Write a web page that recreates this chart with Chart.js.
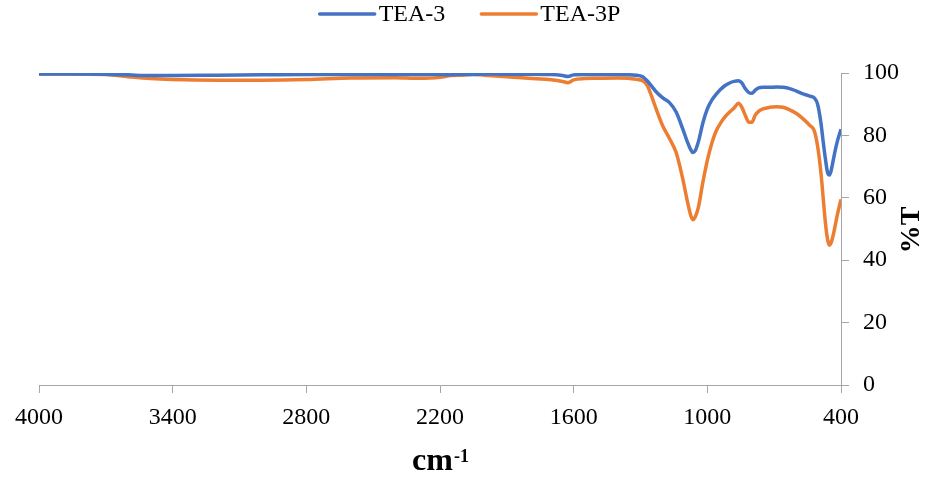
<!DOCTYPE html>
<html>
<head>
<meta charset="utf-8">
<script src="https://cdn.jsdelivr.net/npm/chart.js@4.4.1/dist/chart.umd.min.js"></script>
<style>
  html, body { margin: 0; padding: 0; background: #ffffff; }
  #wrap { width: 933px; height: 479px; position: relative; }
</style>
</head>
<body>
<div id="wrap"><canvas id="c" width="933" height="479"></canvas></div>
<script>
// ---- data ----
const seriesNames = ["TEA-3", "TEA-3P"];
const waveNumbers = [4000, 3850, 3700, 3600, 3500, 3400, 3200, 3000, 2800, 2600, 2400, 2300, 2200, 2150, 2100, 2050, 2000, 1900, 1800, 1700, 1650, 1625, 1600, 1550, 1500, 1400, 1320, 1290, 1270, 1250, 1230, 1200, 1170, 1140, 1110, 1090, 1075, 1065, 1055, 1040, 1020, 1000, 980, 960, 940, 920, 900, 880, 860, 845, 830, 815, 800, 785, 770, 750, 720, 690, 660, 630, 600, 570, 540, 520, 505, 490, 480, 470, 460, 452, 445, 435, 425, 415, 400];
const tea3 = [99.7, 99.7, 99.6, 99.4, 99.2, 99.2, 99.3, 99.4, 99.5, 99.5, 99.5, 99.5, 99.5, 99.4, 99.6, 99.5, 99.7, 99.6, 99.6, 99.5, 99.2, 98.9, 99.4, 99.5, 99.5, 99.5, 99.3, 98.8, 97.5, 95.8, 94.0, 92.0, 90.5, 87.5, 82.0, 78.0, 75.5, 74.5, 75.0, 78.0, 84.0, 88.5, 91.3, 93.2, 94.8, 96.0, 96.8, 97.3, 97.5, 96.8, 95.0, 93.8, 93.5, 94.5, 95.2, 95.4, 95.4, 95.5, 95.4, 95.0, 94.2, 93.3, 92.6, 92.0, 90.0, 84.0, 78.0, 72.5, 68.0, 67.3, 68.5, 72.0, 75.5, 78.5, 82.0];
const tea3p = [99.7, 99.7, 99.5, 98.8, 98.2, 97.9, 97.7, 97.7, 97.9, 98.4, 98.5, 98.3, 98.6, 99.2, 99.3, 99.6, 99.3, 98.8, 98.3, 97.8, 97.3, 96.9, 97.8, 98.2, 98.3, 98.4, 98.0, 97.5, 96.0, 92.5, 88.5, 83.0, 79.0, 74.5, 66.0, 59.0, 54.5, 53.0, 53.8, 57.0, 65.0, 72.0, 77.5, 81.5, 84.0, 86.0, 87.5, 88.8, 90.3, 89.0, 86.5, 84.3, 84.2, 86.5, 87.7, 88.5, 89.0, 89.2, 89.0, 88.2, 87.0, 85.3, 83.2, 81.5, 76.5, 68.0, 60.0, 52.0, 46.5, 44.8, 45.5, 48.0, 51.5, 55.0, 59.5];
const xTickStep = 600;
const yTickValues = [0, 20, 40, 60, 80, 100];
const xTitleMain = "cm";
const xTitleSup = "-1";
const yTitle = "%T";

const colors = ["#4472C4", "#ED7D31"];
const serif = '"Liberation Serif", "Times New Roman", serif';

const toPts = arr => waveNumbers.map((w, i) => ({ x: w, y: arr[i] }));

const decorPlugin = {
  id: 'decor',
  afterDraw(chart) {
    const ctx = chart.ctx;
    const area = chart.chartArea;
    ctx.save();
    // legend
    ctx.font = '24px ' + serif;
    ctx.textBaseline = 'middle';
    ctx.textAlign = 'left';
    const lineLen = 55, gapText = 4, gapItem = 36;
    const ds = chart.data.datasets;
    const widths = ds.map(d => ctx.measureText(d.label).width);
    let total = 0;
    ds.forEach((d, i) => { total += lineLen + gapText + widths[i]; if (i) total += gapItem; });
    let x = 470 - total / 2;
    const ly = 14;
    ds.forEach((d, i) => {
      ctx.strokeStyle = d.borderColor;
      ctx.lineWidth = 3.5;
      ctx.lineCap = 'round';
      ctx.beginPath();
      ctx.moveTo(x, ly);
      ctx.lineTo(x + lineLen, ly);
      ctx.stroke();
      ctx.fillStyle = '#000';
      ctx.fillText(d.label, x + lineLen + gapText, ly + 1);
      x += lineLen + gapText + widths[i] + gapItem;
    });
    // x title with superscript
    const cx = (area.left + area.right) / 2;
    ctx.textBaseline = 'alphabetic';
    ctx.font = 'bold 32px ' + serif;
    const wMain = ctx.measureText(xTitleMain).width;
    ctx.font = 'bold 18px ' + serif;
    const wSup = ctx.measureText(xTitleSup).width;
    const sx = cx - (wMain + wSup) / 2;
    ctx.font = 'bold 32px ' + serif;
    ctx.fillText(xTitleMain, sx, 470);
    ctx.font = 'bold 18px ' + serif;
    ctx.fillText(xTitleSup, sx + wMain + 1, 462);
    // y title, rotated
    ctx.translate(912, 230);
    ctx.rotate(-Math.PI / 2);
    ctx.font = 'bold 28px ' + serif;
    ctx.textAlign = 'center';
    ctx.textBaseline = 'middle';
    ctx.fillText(yTitle, 0, 0);
    ctx.restore();
  }
};

new Chart(document.getElementById('c'), {
  type: 'line',
  data: {
    datasets: [
      { label: seriesNames[0], data: toPts(tea3), borderColor: colors[0], backgroundColor: colors[0], borderWidth: 3.5, pointRadius: 0, cubicInterpolationMode: 'monotone', fill: false },
      { label: seriesNames[1], data: toPts(tea3p), borderColor: colors[1], backgroundColor: colors[1], borderWidth: 3.5, pointRadius: 0, cubicInterpolationMode: 'monotone', fill: false }
    ]
  },
  options: {
    responsive: false,
    animation: false,
    devicePixelRatio: 1,
    layout: { padding: { left: 39, top: 73, right: 0, bottom: 0 } },
    plugins: { legend: { display: false }, tooltip: { enabled: false } },
    scales: {
      x: {
        type: 'linear',
        reverse: true,
        min: 400,
        max: 4000,
        ticks: { stepSize: xTickStep, color: '#000', font: { family: serif, size: 24 }, padding: 10, maxRotation: 0, callback: v => String(v) },
        grid: { drawOnChartArea: false, drawTicks: true, tickLength: 8, color: '#a6a6a6' },
        border: { display: true, color: '#a6a6a6', width: 1 },
        afterFit(s) { s.height = 94; }
      },
      y: {
        position: 'right',
        min: 0,
        max: 100,
        afterBuildTicks(s) { s.ticks = yTickValues.map(v => ({ value: v })); },
        ticks: { color: '#000', font: { family: serif, size: 24 }, padding: 14, callback: v => String(v) },
        grid: { drawOnChartArea: false, drawTicks: true, tickLength: 8, color: '#a6a6a6' },
        border: { display: true, color: '#a6a6a6', width: 1 },
        afterFit(s) { s.width = 92; }
      }
    }
  },
  plugins: [decorPlugin]
});
</script>
</body>
</html>
